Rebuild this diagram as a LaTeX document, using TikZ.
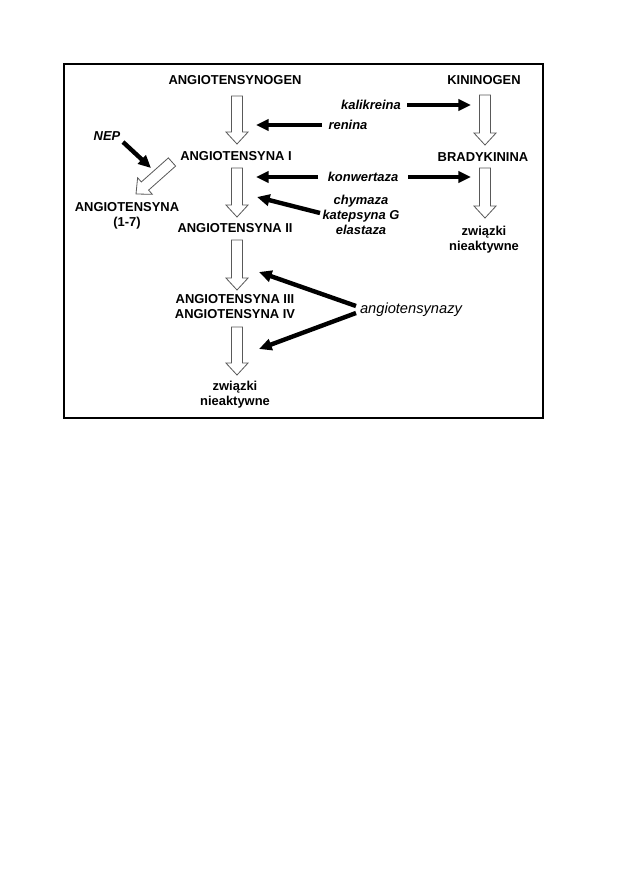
\documentclass[tikz,border=0pt]{standalone}
\usepackage{fontspec}
\setmainfont{Liberation Sans}
\usetikzlibrary{arrows.meta,calc}
\tikzset{
  lbl/.style={font=\fontsize{9.7pt}{11.25pt}\selectfont\bfseries, align=center, inner sep=0pt},
  enz/.style={font=\fontsize{9.7pt}{11.25pt}\selectfont\bfseries\itshape, align=center, inner sep=0pt},
  enzl/.style={font=\fontsize{11pt}{11.25pt}\selectfont\itshape, inner sep=0pt},
  blk/.style={line width=3.3pt, -{Triangle[length=9.5pt,width=8.5pt]}},
  hol/.style={draw=black!65, line width=0.6pt, fill=white, line join=miter},
  frame/.style={draw=black, line width=0.8pt},
}
\newcommand\holarr[2]{%
  \coordinate (hb) at ($(#2)!9pt!(#1)$);
  \draw[hol] ($(#1)!4.1pt!90:(#2)$) -- ($(hb)!4.1pt!-90:(#1)$) -- ($(hb)!8.3pt!-90:(#1)$) -- (#2)
     -- ($(hb)!8.3pt!90:(#1)$) -- ($(hb)!4.1pt!90:(#1)$) -- ($(#1)!4.1pt!-90:(#2)$) -- cycle;}
\begin{document}
\begin{tikzpicture}[x=0.75pt,y=-0.75pt]
\fill[white] (0,0) rectangle (630,893);
\useasboundingbox (0,0) rectangle (630,893);
\draw[frame] (64,64) rectangle (543,418);

% texts
\node[lbl] (agen) at (235,80) {ANGIOTENSYNOGEN};
\node[lbl] (kgen) at (484,80) {KININOGEN};
\node[lbl] (a1) at (236,156) {ANGIOTENSYNA I};
\node[lbl] (brad) at (483,157) {BRADYKININA};
\node[lbl] (a17) at (127,216) {ANGIOTENSYNA\\(1-7)};
\node[lbl] (a2) at (235,228) {ANGIOTENSYNA II};
\node[lbl] (a34) at (235,306.5) {ANGIOTENSYNA III\\ANGIOTENSYNA IV};
\node[lbl] (zn1) at (235,394.5) {związki\\nieaktywne};
\node[lbl] (zn2) at (484,240) {związki\\nieaktywne};
\node[enz] (kal) at (371,105) {kalikreina};
\node[enz] (ren) at (348,125) {renina};
\node[enz] (nep) at (107,136) {NEP};
\node[enz] (kon) at (363,177) {konwertaza};
\node[enz] (chy) at (361,215) {chymaza\\katepsyna G\\elastaza};
\node[enzl] (ats) at (411,310) {angiotensynazy};

% hollow arrow end points
\coordinate (h1s) at (237,96);  \coordinate (h1e) at (237,144);
\coordinate (h2s) at (237,168); \coordinate (h2e) at (237,217);
\coordinate (h3s) at (237,240); \coordinate (h3e) at (237,290);
\coordinate (h4s) at (237,327); \coordinate (h4e) at (237,375);
\coordinate (k1s) at (485,95);  \coordinate (k1e) at (485,145);
\coordinate (k2s) at (485,168); \coordinate (k2e) at (485,218);
\coordinate (ds) at (172,162);  \coordinate (de) at (136,194);
\holarr{h1s}{h1e}
\holarr{h2s}{h2e}
\holarr{h3s}{h3e}
\holarr{h4s}{h4e}
\holarr{k1s}{k1e}
\holarr{k2s}{k2e}
\holarr{ds}{de}

% black arrows
\coordinate (kalS) at (407,105); \coordinate (kalE) at (471,105);
\coordinate (renS) at (322,125); \coordinate (renE) at (256,125);
\coordinate (konLS) at (318,177); \coordinate (konLE) at (256,177);
\coordinate (konRS) at (408,177); \coordinate (konRE) at (471,177);
\coordinate (chyS) at (320,213); \coordinate (chyE) at (257,197);
\coordinate (nepS) at (123,142); \coordinate (nepE) at (151,168);
\coordinate (atsS1) at (356,306); \coordinate (atsE1) at (259,272);
\coordinate (atsS2) at (356,313); \coordinate (atsE2) at (259,349);
\draw[blk] (kalS) -- (kalE);
\draw[blk] (renS) -- (renE);
\draw[blk] (konLS) -- (konLE);
\draw[blk] (konRS) -- (konRE);
\draw[blk] (chyS) -- (chyE);
\draw[blk] (nepS) -- (nepE);
\draw[blk] (atsS1) -- (atsE1);
\draw[blk] (atsS2) -- (atsE2);
\end{tikzpicture}
\end{document}
